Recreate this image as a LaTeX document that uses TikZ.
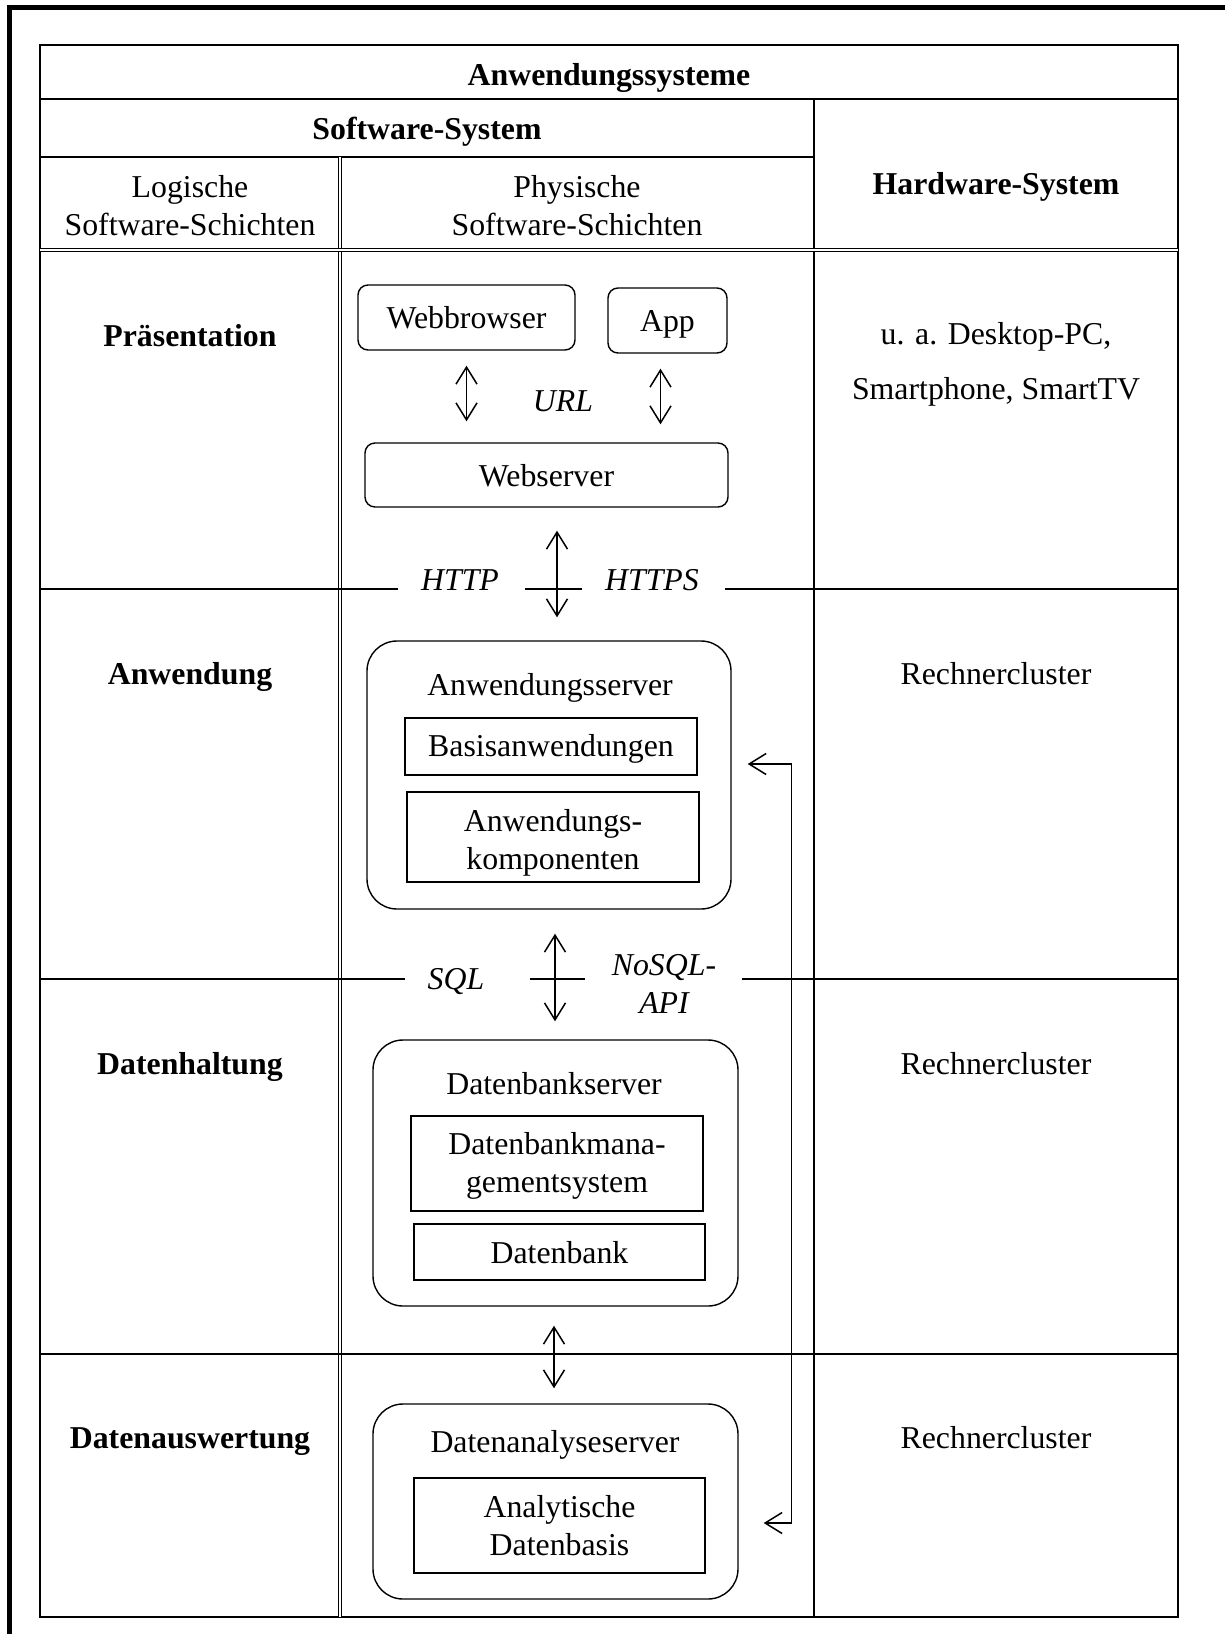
\documentclass[tikz,border=0pt]{standalone}
\usepackage{fontspec}
\setmainfont{Liberation Serif}
\usetikzlibrary{arrows.meta}
% lower a text inside its box without changing the box's reported size
\newcommand{\lowered}[2]{\raisebox{-#1}[\height][\depth]{#2}}
\newcommand{\twolines}[2]{\begin{tabular}{@{}c@{}}#1\\#2\end{tabular}}
\begin{document}
\begin{tikzpicture}[x=0.5pt,y=-0.5pt,
  font=\fontsize{15.9}{19}\selectfont,
  grid/.style={line width=0.7pt},
  dbl/.style={double, double distance=1.1pt, line width=0.5pt},
  frame/.style={line width=2.3pt},
  rbox/.style={draw, line width=0.7pt, rounded corners=5pt, inner sep=0pt},
  bigbox/.style={draw, line width=0.7pt, rounded corners=15pt, inner sep=0pt},
  sbox/.style={draw, line width=0.7pt, inner sep=0pt, align=center},
  tip/.tip={Straight Barb[length=8.5pt,width=10.5pt]},
  arr/.style={line width=0.75pt, tip-tip},
  proto/.style={font=\fontsize{15.9}{19}\selectfont\itshape, align=center}
]
\useasboundingbox (0,0) rectangle (1225,1634);
\clip (0,0) rectangle (1225,1634);

% page frame
\draw[frame] (9.5,1650) -- (9.5,7.5) -- (1240,7.5);

% table grid
\draw[grid] (40,45) rectangle (1178,1617);
\draw[grid] (40,99) -- (1178,99);
\draw[grid] (40,157) -- (814,157);
\draw[grid] (814,99) -- (814,1617);
\draw[dbl] (340,157) -- (340,1617);
\draw[dbl] (40,250) -- (1178,250);
\draw[grid] (40,589) -- (340,589) (340,589) -- (398,589) (525,589) -- (582,589) (725,589) -- (1178,589);
\draw[grid] (40,979) -- (340,979) (340,979) -- (405,979) (530,979) -- (585,979) (742,979) -- (1178,979);
\draw[grid] (40,1354) -- (1178,1354);

% header texts
\node (taws) at (609,78) {\textbf{Anwendungssysteme}};
\node (tsws) at (427,132) {\textbf{Software-System}};
\node[align=center] (tlog) at (190,206) {Logische\\Software-Schichten};
\node[align=center] (tphy) at (577,206) {Physische\\Software-Schichten};
\node (thws) at (996,187) {\textbf{Hardware-System}};

% logical layers
\node (lpra) at (190,336) {\textbf{Präsentation}};
\node (lanw) at (190,677) {\textbf{Anwendung}};
\node (ldat) at (190,1067) {\textbf{Datenhaltung}};
\node (laus) at (190,1442) {\textbf{Datenauswertung}};

% hardware
\node[align=center] (hpra) at (996,364) {u. a. Desktop-PC,\\[8.5pt]Smartphone, SmartTV};
\node (hanw) at (996,674) {Rechnercluster};
\node (hdat) at (996,1064) {Rechnercluster};
\node (haus) at (996,1438) {Rechnercluster};

% presentation tier
\node[rbox, minimum width=108.5pt, minimum height=32.5pt] (wb) at (466.5,317.5) {Webbrowser};
\node[rbox, minimum width=59.5pt, minimum height=32.5pt] (app) at (667.5,320.5) {\lowered{2pt}{App}};
\node[rbox, minimum width=181.5pt, minimum height=32pt] (ws) at (546.5,475) {\lowered{0.5pt}{Webserver}};
\node[proto] (url) at (563,401) {URL};
\draw[arr, shorten <=7.5pt, shorten >=10.5pt] (wb.south) -- (wb.south |- ws.north);
\draw[arr, shorten <=7.5pt, shorten >=9pt] ([xshift=-3.5pt]app.south) -- ([xshift=-3.5pt]app.south |- ws.north);

% application tier
\node[bigbox, minimum width=182pt, minimum height=134pt] (as) at (549,775) {};
\node (aslab) at (550,688) {Anwendungsserver};
\node[sbox, minimum width=146pt, minimum height=28.5pt] (basis) at (551,746.5) {\lowered{1pt}{Basisanwendungen}};
\node[sbox, minimum width=146pt, minimum height=45pt] (komp) at (553,837) {\lowered{3pt}{\twolines{Anwendungs-}{komponenten}}};
\node[proto] (http) at (460,580) {HTTP};
\node[proto] (https) at (652,580) {HTTPS};
\draw[arr, shorten <=11.5pt, shorten >=11.5pt] ([xshift=5.25pt]ws.south) -- ([xshift=5.25pt]ws.south |- as.north);

% data tier
\node[bigbox, minimum width=182.5pt, minimum height=133pt] (dbs) at (555.5,1173) {};
\node (dbslab) at (554,1084) {Datenbankserver};
\node[sbox, minimum width=146pt, minimum height=47.5pt] (dbms) at (557,1163.5) {\lowered{1pt}{\twolines{Datenbankmana-}{gementsystem}}};
\node[sbox, minimum width=145.5pt, minimum height=28pt] (db) at (559.5,1252) {\lowered{0.5pt}{Datenbank}};
\node[proto] (sql) at (456,982) {SQL};
\node[proto] (nosql) at (664,984) {NoSQL-\\API};
\draw[arr, shorten <=12pt, shorten >=9pt] ([xshift=3pt]as.south) -- ([xshift=3pt]as.south |- dbs.north);

% analysis tier
\node[bigbox, minimum width=182.5pt, minimum height=97.5pt] (das) at (555.5,1501.5) {};
\node (daslab) at (555,1445) {Datenanalyseserver};
\node[sbox, minimum width=145.5pt, minimum height=47.5pt] (adb) at (559.5,1525.5) {Analytische\\Datenbasis};
\draw[arr, shorten <=9.5pt, shorten >=7.5pt] ([xshift=-0.75pt]dbs.south) -- ([xshift=-0.75pt]dbs.south |- das.north);

% feedback between analysis and application server
\coordinate (fbA) at ([xshift=8pt]as.east |- 0,764);
\coordinate (fbB) at ([xshift=12.5pt]das.east |- 0,1523);
\draw[arr] (fbA) -- ++(44,0) |- (fbB);
\end{tikzpicture}
\end{document}
